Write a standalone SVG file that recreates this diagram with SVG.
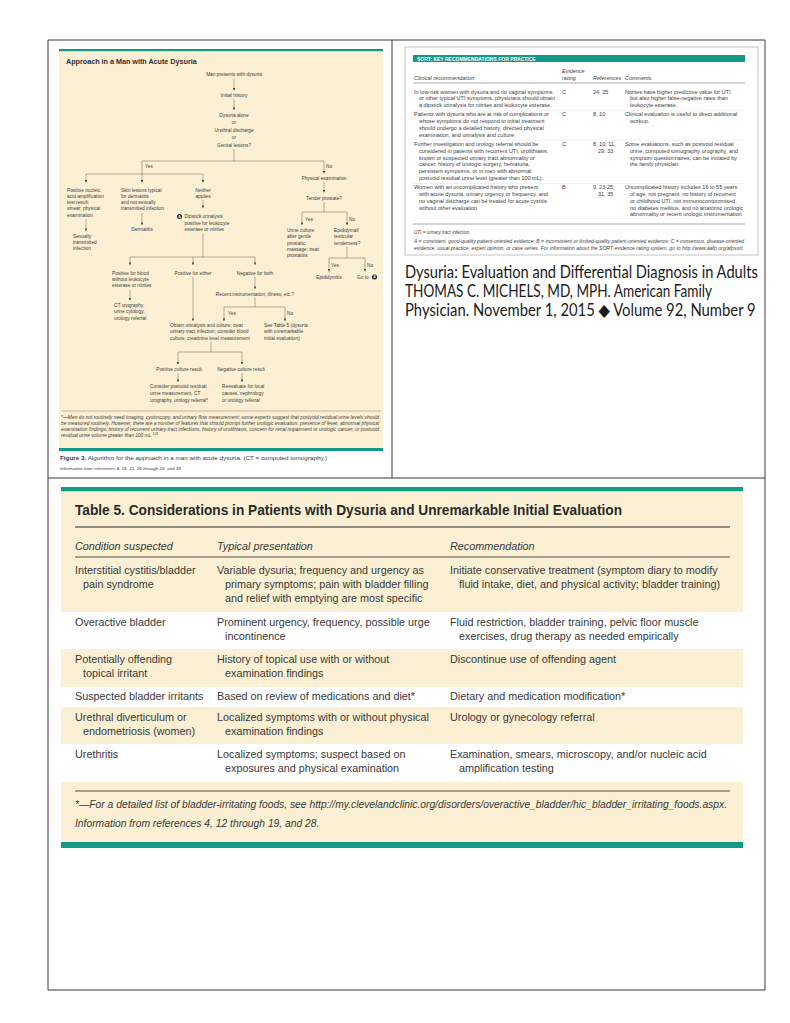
<svg xmlns="http://www.w3.org/2000/svg" width="790" height="1023" viewBox="0 0 790 1023">
<defs>
<style>
.fc{font-family:"Liberation Sans",Arial,sans-serif;font-size:4.8px;fill:#3b3b3b}
.m{text-anchor:middle}
.it{font-style:italic}
.ln{stroke:#6e6250;stroke-width:0.5;fill:none}
.ar{stroke:#6e6250;stroke-width:0.5;fill:none;marker-end:url(#ah)}
.st{font-family:"Liberation Sans",Arial,sans-serif;font-size:5.5px;fill:#3d3d3d}
.t5{font-family:"Liberation Sans",Arial,sans-serif;font-size:10.8px;fill:#383838}
.cit{font-family:Lato,"Liberation Sans","DejaVu Sans",sans-serif;font-size:17px;fill:#1a1a1a}
.frame{stroke:#3a3a3a;stroke-width:1;fill:none}
.teal{fill:#139a87}
.beige{fill:#fbf0d3}
</style>
<marker id="ah" viewBox="0 0 6 6" refX="6" refY="3" markerWidth="3" markerHeight="2.6" markerUnits="userSpaceOnUse" orient="auto">
<path d="M0,0 L6,3 L0,6 z" fill="#4a3f30"/>
</marker>
<g id="badge"><circle r="2.5" fill="#1e1e1e"/><text y="1.25" text-anchor="middle" font-family="Liberation Sans,Arial,sans-serif" font-size="3.5" font-weight="bold" fill="#fff">A</text></g>
</defs>
<rect width="790" height="1023" fill="#fff"/>

<g id="frame">
<path class="frame" d="M48,40 H765 V990 H48 Z M48,478 H765 M392,40 V478"/>
</g>

<g id="flowchart-panel">
<rect class="beige" x="59" y="51" width="324" height="397"/>
<rect class="teal" x="59" y="49" width="324" height="2.2"/>
<rect class="teal" x="59" y="448" width="324" height="3"/>
<text x="66" y="64" font-family="Liberation Sans,Arial,sans-serif" font-size="7.2" font-weight="bold" fill="#2e2e2e">Approach in a Man with Acute Dysuria</text>
</g>

<g id="connectors">
<path class="ar" d="M234,78.5 V90.5"/>
<path class="ar" d="M234,99 V110"/>
<path class="ln" d="M234,149 V161 M142,161 H324 M142,161 V174 M86,174 H203"/>
<path class="ar" d="M86,174 V182.5"/>
<path class="ar" d="M142,174 V182.5"/>
<path class="ar" d="M203,174 V182.5"/>
<path class="ar" d="M324,161 V173.5"/>
<path class="ar" d="M324,182 V192.5"/>
<path class="ln" d="M324,202 V212 M302,212 H347"/>
<path class="ar" d="M302,212 V225"/>
<path class="ar" d="M347,212 V225"/>
<path class="ln" d="M347,247 V258 M329,258 H365"/>
<path class="ar" d="M329,258 V271.5"/>
<path class="ar" d="M365,258 V271.5"/>
<path class="ar" d="M86,219 V231"/>
<path class="ar" d="M142,213 V225"/>
<path class="ar" d="M203,200 V208"/>
<path class="ln" d="M203,233.5 V257 M130,257 H255"/>
<path class="ar" d="M130,257 V265"/>
<path class="ar" d="M193,257 V265"/>
<path class="ar" d="M255,257 V265"/>
<path class="ar" d="M130,290 V300.5"/>
<path class="ar" d="M193,277 V321"/>
<path class="ar" d="M255,277 V289"/>
<path class="ln" d="M255,297.5 V307 M224,307 H285"/>
<path class="ar" d="M224,307 V321"/>
<path class="ar" d="M285,307 V321"/>
<path class="ln" d="M211,341.5 V352 M178,352 H242"/>
<path class="ar" d="M178,352 V364.5"/>
<path class="ar" d="M242,352 V364.5"/>
<path class="ar" d="M178,373 V382"/>
<path class="ar" d="M242,373 V382"/>
</g>

<g id="n-start"><text class="fc m" x="234" y="76">Man presents with dysuria</text></g>
<g id="n-history"><text class="fc m" x="234" y="96.5">Initial history</text></g>
<g id="n-dysuria">
<text class="fc m" x="234" y="116.5">Dysuria alone</text>
<text class="fc m it" x="234" y="124">or</text>
<text class="fc m" x="234" y="131.5">Urethral discharge</text>
<text class="fc m it" x="234" y="139">or</text>
<text class="fc m" x="234" y="146.5">Genital lesions?</text>
</g>
<g id="lbl-yes-no">
<text class="fc" x="145" y="168">Yes</text>
<text class="fc" x="326" y="168">No</text>
</g>
<g id="n-naat">
<text class="fc" x="67" y="191.5">Positive nucleic</text>
<text class="fc" x="67" y="197.8">acid amplification</text>
<text class="fc" x="67" y="204.1">test result;</text>
<text class="fc" x="67" y="210.4">smear; physical</text>
<text class="fc" x="67" y="216.7">examination</text>
</g>
<g id="n-sti">
<text class="fc" x="73" y="237.5">Sexually</text>
<text class="fc" x="73" y="243.8">transmitted</text>
<text class="fc" x="73" y="250.1">infection</text>
</g>
<g id="n-skin">
<text class="fc" x="121" y="191.5">Skin lesions typical</text>
<text class="fc" x="121" y="197.8">for dermatitis</text>
<text class="fc" x="121" y="204.1">and not sexually</text>
<text class="fc" x="121" y="210.4">transmitted infection</text>
</g>
<g id="n-dermatitis"><text class="fc m" x="142" y="230.5">Dermatitis</text></g>
<g id="n-neither">
<text class="fc m" x="203" y="191.5">Neither</text>
<text class="fc m" x="203" y="197.8">applies</text>
</g>
<g id="n-dipstick">
<use href="#badge" x="179.5" y="216.5"/>
<text class="fc" x="184.5" y="218">Dipstick urinalysis</text>
<text class="fc" x="184.5" y="224.7">positive for leukocyte</text>
<text class="fc" x="184.5" y="231.4">esterase or nitrites</text>
</g>
<g id="n-blood">
<text class="fc" x="112" y="274.5">Positive for blood</text>
<text class="fc" x="112" y="280.8">without leukocyte</text>
<text class="fc" x="112" y="287.1">esterase or nitrites</text>
</g>
<g id="n-ct">
<text class="fc" x="114" y="307">CT urography,</text>
<text class="fc" x="114" y="313.3">urine cytology,</text>
<text class="fc" x="114" y="319.6">urology referral</text>
</g>
<g id="n-either"><text class="fc m" x="193" y="274.5">Positive for either</text></g>
<g id="n-both"><text class="fc m" x="255" y="274.5">Negative for both</text></g>
<g id="n-recent"><text class="fc m" x="255" y="295.5">Recent instrumentation, illness, etc.?</text></g>
<g id="lbl-yes-no-2">
<text class="fc" x="228" y="315">Yes</text>
<text class="fc" x="287" y="315">No</text>
</g>
<g id="n-obtain">
<text class="fc" x="170" y="326.5">Obtain urinalysis and culture; treat</text>
<text class="fc" x="170" y="333">urinary tract infection; consider blood</text>
<text class="fc" x="170" y="339.5">culture, creatinine level measurement</text>
</g>
<g id="n-table5">
<text class="fc" x="264" y="326.5">See Table 5 (dysuria</text>
<text class="fc" x="264" y="333">with unremarkable</text>
<text class="fc" x="264" y="339.5">initial evaluation)</text>
</g>
<g id="n-poscult"><text class="fc m" x="179" y="370.5">Positive culture result</text></g>
<g id="n-negcult"><text class="fc m" x="241" y="370.5">Negative culture result</text></g>
<g id="n-consider">
<text class="fc" x="150" y="388">Consider postvoid residual</text>
<text class="fc" x="150" y="394.8">urine measurement, CT</text>
<text class="fc" x="150" y="401.6">urography, urology referral*</text>
</g>
<g id="n-reeval">
<text class="fc" x="222" y="388">Reevaluate for local</text>
<text class="fc" x="222" y="394.8">causes, nephrology</text>
<text class="fc" x="222" y="401.6">or urology referral</text>
</g>
<g id="n-physical"><text class="fc m" x="324" y="179.5">Physical examination</text></g>
<g id="n-prostate"><text class="fc m" x="324" y="199.5">Tender prostate?</text></g>
<g id="lbl-yes-no-3">
<text class="fc" x="305" y="221">Yes</text>
<text class="fc" x="349" y="221">No</text>
<text class="fc" x="331" y="266.5">Yes</text>
<text class="fc" x="367" y="266.5">No</text>
</g>
<g id="n-urineculture">
<text class="fc" x="287" y="232">Urine culture</text>
<text class="fc" x="287" y="238.3">after gentle</text>
<text class="fc" x="287" y="244.6">prostatic</text>
<text class="fc" x="287" y="250.9">massage; treat</text>
<text class="fc" x="287" y="257.2">prostatitis</text>
</g>
<g id="n-epididymal">
<text class="fc" x="334" y="232">Epididymal/</text>
<text class="fc" x="334" y="238.3">testicular</text>
<text class="fc" x="334" y="244.6">tenderness?</text>
</g>
<g id="n-epididymitis"><text class="fc m" x="329" y="278.5">Epididymitis</text></g>
<g id="n-goto">
<text class="fc" x="357" y="278.5">Go to</text>
<use href="#badge" x="374.5" y="277"/>
</g>

<g id="fc-footnote">
<path d="M61,411 H381" stroke="#8a7c66" stroke-width="0.5"/>
<text class="fc it" x="61" y="418.5" font-size="4.4" textLength="318" lengthAdjust="spacingAndGlyphs">*—Men do not routinely need imaging, cystoscopy, and urinary flow measurement; some experts suggest that postvoid residual urine levels should</text>
<text class="fc it" x="61" y="424.6" font-size="4.4" textLength="318" lengthAdjust="spacingAndGlyphs">be measured routinely. However, there are a number of features that should prompt further urologic evaluation: presence of fever, abnormal physical</text>
<text class="fc it" x="61" y="430.7" font-size="4.4" textLength="318" lengthAdjust="spacingAndGlyphs">examination findings, history of recurrent urinary tract infections, history of urolithiasis, concern for renal impairment or urologic cancer, or postvoid</text>
<text class="fc it" x="61" y="436.8" font-size="4.4">residual urine volume greater than 100 mL.<tspan font-size="2.8" dy="-1.5">2,29</tspan></text>
</g>
<g id="caption">
<text x="60" y="460" font-family="Liberation Sans,Arial,sans-serif" font-size="5.8" fill="#3a3a3a" textLength="267" lengthAdjust="spacingAndGlyphs"><tspan font-weight="bold">Figure 3.</tspan> Algorithm for the approach in a man with acute dysuria. (CT = computed tomography.)</text>
<text x="60" y="469.5" font-family="Liberation Sans,Arial,sans-serif" font-size="4" font-style="italic" fill="#3a3a3a" textLength="122" lengthAdjust="spacingAndGlyphs">Information from references 4, 18, 21, 26 through 29, and 39.</text>
</g>

<g id="sort-table">
<rect x="405" y="47" width="353" height="208" fill="#fff" stroke="#9a9a9a" stroke-width="0.6"/>
<rect class="teal" x="413" y="55" width="332" height="7"/>
<text x="417" y="60.6" font-family="Liberation Sans,Arial,sans-serif" font-size="5" font-weight="bold" fill="#fff">SORT: KEY RECOMMENDATIONS FOR PRACTICE</text>
<g class="st it">
<text x="414" y="79.5">Clinical recommendation</text>
<text x="562" y="73">Evidence</text>
<text x="562" y="79.5">rating</text>
<text x="593" y="79.5">References</text>
<text x="625" y="79.5">Comments</text>
</g>
<path d="M413,83 H745" stroke="#555" stroke-width="0.5"/>
<path d="M413,110.8 H745 M413,140.1 H745 M413,183.5 H745" stroke="#dcdcdc" stroke-width="0.4"/>
<g class="st">
<text x="414" y="93.5">In low-risk women with dysuria and no vaginal symptoms</text>
<text x="419" y="100.3">or other typical UTI symptoms, physicians should obtain</text>
<text x="419" y="107.1">a dipstick urinalysis for nitrites and leukocyte esterase.</text>
<text x="562" y="93.5">C</text>
<text x="593" y="93.5">24, 25</text>
<text x="625" y="93.5">Nitrites have higher predictive value for UTI</text>
<text x="630" y="100.3">but also higher false-negative rates than</text>
<text x="630" y="107.1">leukocyte esterase.</text>

<text x="414" y="116.3">Patients with dysuria who are at risk of complications or</text>
<text x="419" y="123.1">whose symptoms do not respond to initial treatment</text>
<text x="419" y="129.9">should undergo a detailed history, directed physical</text>
<text x="419" y="136.7">examination, and urinalysis and culture.</text>
<text x="562" y="116.3">C</text>
<text x="593" y="116.3">8, 10</text>
<text x="625" y="116.3">Clinical evaluation is useful to direct additional</text>
<text x="630" y="123.1">workup.</text>

<text x="414" y="145.9">Further investigation and urology referral should be</text>
<text x="419" y="152.7">considered in patients with recurrent UTI, urolithiasis,</text>
<text x="419" y="159.5">known or suspected urinary tract abnormality or</text>
<text x="419" y="166.3">cancer, history of urologic surgery, hematuria,</text>
<text x="419" y="173.1">persistent symptoms, or in men with abnormal</text>
<text x="419" y="179.9">postvoid residual urine level (greater than 100 mL).</text>
<text x="562" y="145.9">C</text>
<text x="593" y="145.9">8, 10, 11,</text>
<text x="598" y="152.7">29, 33</text>
<text x="625" y="145.9">Some evaluations, such as postvoid residual</text>
<text x="630" y="152.7">urine, computed tomography urography, and</text>
<text x="630" y="159.5">symptom questionnaires, can be initiated by</text>
<text x="630" y="166.3">the family physician.</text>

<text x="414" y="189.1">Women with an uncomplicated history who present</text>
<text x="419" y="195.9">with acute dysuria, urinary urgency or frequency, and</text>
<text x="419" y="202.7">no vaginal discharge can be treated for acute cystitis</text>
<text x="419" y="209.5">without other evaluation.</text>
<text x="562" y="189.1">B</text>
<text x="593" y="189.1">9, 23-25,</text>
<text x="598" y="195.9">31, 35</text>
<text x="625" y="189.1">Uncomplicated history includes 16 to 55 years</text>
<text x="630" y="195.9">of age, not pregnant, no history of recurrent</text>
<text x="630" y="202.7">or childhood UTI, not immunocompromised,</text>
<text x="630" y="209.5">no diabetes mellitus, and no anatomic urologic</text>
<text x="630" y="216.3">abnormality or recent urologic instrumentation.</text>
</g>
<path d="M413,224 H745" stroke="#555" stroke-width="0.5"/>
<g class="st it">
<text x="414" y="233.5" font-size="4.6">UTI = urinary tract infection.</text>
<text x="414" y="242.5" font-size="4.6" textLength="330" lengthAdjust="spacingAndGlyphs">A = consistent, good-quality patient-oriented evidence; B = inconsistent or limited-quality patient-oriented evidence; C = consensus, disease-oriented</text>
<text x="414" y="249.5" font-size="4.6" textLength="330" lengthAdjust="spacingAndGlyphs">evidence, usual practice, expert opinion, or case series. For information about the SORT evidence rating system, go to http://www.aafp.org/afpsort.</text>
</g>
</g>

<g id="citation">
<text class="cit" transform="translate(405,278) scale(0.862,1)">Dysuria: Evaluation and Differential Diagnosis in Adults</text>
<text class="cit" transform="translate(405,297) scale(0.8,1)">THOMAS C. MICHELS, MD, MPH. American Family</text>
<text class="cit" transform="translate(405,316) scale(0.872,1)">Physician. November 1, 2015 ◆ Volume 92, Number 9</text>
</g>

<g id="table5">
<rect class="teal" x="61" y="487" width="682" height="4.5"/>
<rect class="beige" x="61" y="491.5" width="682" height="350.5"/>
<rect fill="#fff" x="61" y="612" width="682" height="37"/>
<rect fill="#fff" x="61" y="687" width="682" height="20"/>
<rect fill="#fff" x="61" y="744" width="682" height="38"/>
<rect class="teal" x="61" y="842" width="682" height="6"/>
<text x="75" y="515" font-family="Liberation Sans,Arial,sans-serif" font-size="14.5" font-weight="bold" fill="#2a2a2a" textLength="547" lengthAdjust="spacingAndGlyphs">Table 5. Considerations in Patients with Dysuria and Unremarkable Initial Evaluation</text>
<path d="M75,527 H730" stroke="#2a2a2a" stroke-width="1"/>
<g class="t5 it">
<text x="75" y="550">Condition suspected</text>
<text x="217" y="550">Typical presentation</text>
<text x="450" y="550">Recommendation</text>
</g>
<path d="M75,557 H730" stroke="#2a2a2a" stroke-width="0.8"/>
<g class="t5">
<text x="75" y="573.5">Interstitial cystitis/bladder</text>
<text x="83" y="587.5">pain syndrome</text>
<text x="217" y="573.5">Variable dysuria; frequency and urgency as</text>
<text x="225" y="587.5">primary symptoms; pain with bladder filling</text>
<text x="225" y="601.5">and relief with emptying are most specific</text>
<text x="450" y="573.5">Initiate conservative treatment (symptom diary to modify</text>
<text x="459" y="587.5">fluid intake, diet, and physical activity; bladder training)</text>

<text x="75" y="626">Overactive bladder</text>
<text x="217" y="626">Prominent urgency, frequency, possible urge</text>
<text x="225" y="640">incontinence</text>
<text x="450" y="626">Fluid restriction, bladder training, pelvic floor muscle</text>
<text x="459" y="640">exercises, drug therapy as needed empirically</text>

<text x="75" y="663">Potentially offending</text>
<text x="83" y="677">topical irritant</text>
<text x="217" y="663">History of topical use with or without</text>
<text x="225" y="677">examination findings</text>
<text x="450" y="663">Discontinue use of offending agent</text>

<text x="75" y="700">Suspected bladder irritants</text>
<text x="217" y="700">Based on review of medications and diet*</text>
<text x="450" y="700">Dietary and medication modification*</text>

<text x="75" y="721">Urethral diverticulum or</text>
<text x="83" y="735">endometriosis (women)</text>
<text x="217" y="721">Localized symptoms with or without physical</text>
<text x="225" y="735">examination findings</text>
<text x="450" y="721">Urology or gynecology referral</text>

<text x="75" y="758">Urethritis</text>
<text x="217" y="758">Localized symptoms; suspect based on</text>
<text x="225" y="772">exposures and physical examination</text>
<text x="450" y="758">Examination, smears, microscopy, and/or nucleic acid</text>
<text x="459" y="772">amplification testing</text>
</g>
<path d="M75,791 H730" stroke="#5a5148" stroke-width="1"/>
<g class="t5 it">
<text x="75" y="808" font-size="10.3" textLength="652" lengthAdjust="spacingAndGlyphs">*—For a detailed list of bladder-irritating foods, see http://my.clevelandclinic.org/disorders/overactive_bladder/hic_bladder_irritating_foods.aspx.</text>
<text x="75" y="827" font-size="10.3">Information from references 4, 12 through 19, and 28.</text>
</g>
</g>
</svg>
